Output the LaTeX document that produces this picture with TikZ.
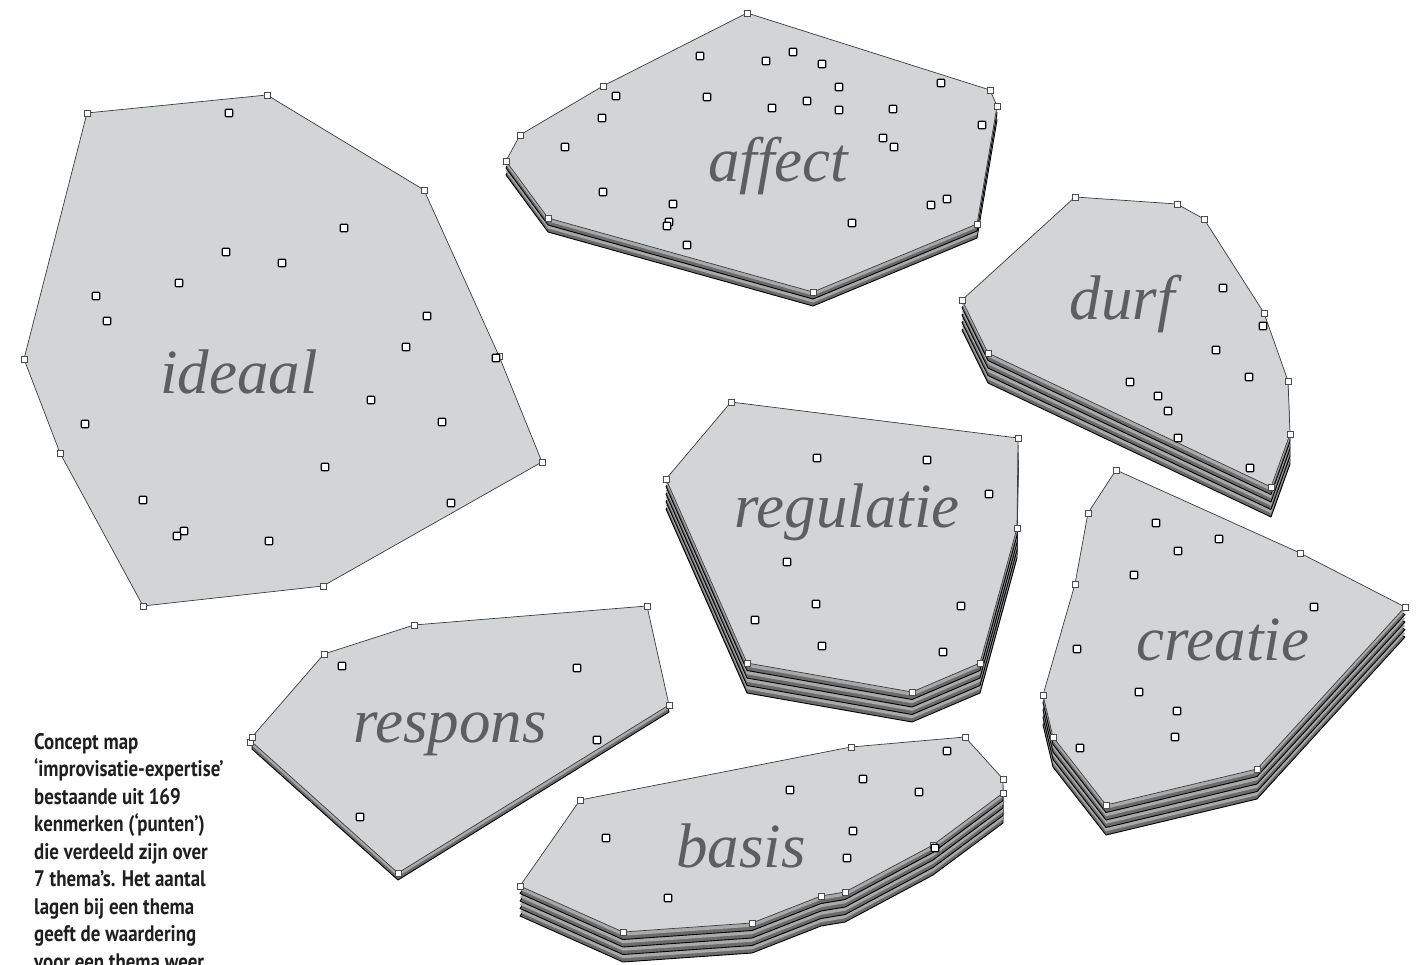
\documentclass[tikz,border=0pt]{standalone}
\usepackage{fontspec}
\newfontfamily\themafont{Liberation Serif}
\newfontfamily\bijschrift[FakeStretch=0.84]{PT Sans}

\definecolor{vlak}{HTML}{D3D4D6}
\definecolor{rand}{HTML}{3C3C3C}
\definecolor{donker}{HTML}{6B6B6B}
\definecolor{licht}{HTML}{A9A9A9}
\definecolor{woord}{HTML}{5E5E60}

% omtrek van de thema's (in pixels van de tekening)
\newcommand{\ideaalvorm}{(87,113) -- (267,95) -- (424,190) -- (499,356) -- (542,462) -- (323,586) -- (143,606) -- (60,453) -- (24,359) -- cycle}
\newcommand{\affectvorm}{(747,13) -- (990,90) -- (997,106) -- (977,224) -- (813,292) -- (548,218) -- (506,161) -- (520,135) -- (603,86) -- cycle}
\newcommand{\durfvorm}{(1075,197) -- (1177,204) -- (1204,219) -- (1264,313) -- (1288,381) -- (1290,434) -- (1271,487) -- (988,353) -- (962,300) -- cycle}
\newcommand{\regulatievorm}{(731,402) -- (1018,438) -- (1017,528) -- (980,663) -- (912,692) -- (747,663) -- (666,479) -- cycle}
\newcommand{\creatievorm}{(1116,470) -- (1300,553) -- (1405,607) -- (1257,769) -- (1106,805) -- (1053,737) -- (1043,695) -- (1075,584) -- (1088,513) -- cycle}
\newcommand{\responsvorm}{(647,606) -- (669,705) -- (398,873) -- (252,742) -- (252,737) -- (324,654) -- (414,625) -- cycle}
\newcommand{\basisvorm}{(580,800) -- (851,747) -- (965,737) -- (1003,779) -- (1003,793) -- (933,845) -- (845,892) -- (821,896) -- (752,923) -- (623,932) -- (520,886) -- cycle}

% #1 vorm, #2 aantal lagen onder het thema, #3 dikte van een laag
\newcommand{\lagen}[3]{%
  \foreach \k in {#2,...,1}{%
    \filldraw[onder, yshift=-\k*#3pt] #1;
    \fill[band, yshift=-\k*#3pt+0.5*#3pt] #1;
  }
  \filldraw[thema] #1;
}

\begin{document}
\begin{tikzpicture}[x=1pt, y=-1pt,
    thema/.style={fill=vlak, draw=rand, line width=0.7pt, line join=round},
    onder/.style={fill=donker, draw=black, line width=0.9pt, line join=round},
    band/.style={fill=licht},
    hoek/.style={draw=black!70, fill=white, line width=0.6pt, inner sep=0pt, minimum size=6pt},
    punt/.style={draw=black, fill=white, line width=1.3pt, inner sep=0pt, minimum size=7.5pt, rounded corners=1pt},
    label/.style={anchor=base, text=woord, font=\themafont\itshape\fontsize{63}{63}\selectfont},
    uitleg/.style={anchor=base west, align=left, inner sep=0pt, text=black!88,
      font=\bijschrift\bfseries\fontsize{22.5}{27.5}\selectfont}]

    \useasboundingbox (0,0) rectangle (1427,965);
    \clip (0,0) rectangle (1427,965);

    % ideaal
    \filldraw[thema] \ideaalvorm;
    \node[label] (ideaal) at (239,394) {ideaal};
    \foreach \x/\y [count=\i] in {87/113, 267/95, 424/190, 499/356, 542/462, 323/586, 143/606, 60/453, 24/359}
        \node[hoek] (ideaal-h\i) at (\x,\y) {};
    \foreach \x/\y [count=\i] in {229/113, 344/228, 226/252, 282/263, 179/283, 96/296, 107/321, 427/316, 406/347,
        496/358, 371/400, 442/422, 85/424, 325/467, 143/500, 451/503, 184/531, 177/536, 269/541}
        \node[punt] (ideaal-p\i) at (\x,\y) {};

    % affect
    \lagen{\affectvorm}{2}{7}
    \node[label] (affect) at (778,182) {affect};
    \foreach \x/\y [count=\i] in {747/13, 990/90, 997/106, 977/224, 813/292, 548/218, 506/161, 520/135, 603/86}
        \node[hoek] (affect-h\i) at (\x,\y) {};
    \foreach \x/\y [count=\i] in {700/56, 766/61, 793/52, 822/64, 839/87, 941/83, 616/96, 707/97, 772/108,
        807/101, 839/110, 893/109, 602/118, 982/125, 883/138, 894/147, 565/147, 603/192, 673/204,
        947/199, 931/205, 669/222, 667/226, 852/223, 687/245}
        \node[punt] (affect-p\i) at (\x,\y) {};

    % durf
    \lagen{\durfvorm}{4}{7.5}
    \node[label] (durf) at (1122,320) {durf};
    \foreach \x/\y [count=\i] in {1075/197, 1177/204, 1204/219, 1264/313, 1288/381, 1290/434, 1271/487, 988/353, 962/300}
        \node[hoek] (durf-h\i) at (\x,\y) {};
    \foreach \x/\y [count=\i] in {1223/288, 1263/326, 1216/350, 1249/377, 1130/382, 1158/396, 1168/411, 1178/438, 1250/468}
        \node[punt] (durf-p\i) at (\x,\y) {};

    % regulatie
    \lagen{\regulatievorm}{4}{7.5}
    \node[label] (regulatie) at (847,527) {regulatie};
    \foreach \x/\y [count=\i] in {731/402, 1018/438, 1017/528, 980/663, 912/692, 747/663, 666/479}
        \node[hoek] (regulatie-h\i) at (\x,\y) {};
    \foreach \x/\y [count=\i] in {817/458, 927/460, 989/494, 787/562, 816/604, 961/606, 755/620, 822/646, 943/652}
        \node[punt] (regulatie-p\i) at (\x,\y) {};

    % creatie
    \lagen{\creatievorm}{4}{7.5}
    \node[label] (creatie) at (1223,660) {creatie};
    \foreach \x/\y [count=\i] in {1116/470, 1300/553, 1405/607, 1257/769, 1106/805, 1053/737, 1043/695, 1075/584, 1088/513}
        \node[hoek] (creatie-h\i) at (\x,\y) {};
    \foreach \x/\y [count=\i] in {1156/523, 1219/539, 1178/551, 1134/575, 1314/607, 1077/649, 1139/692, 1177/711, 1175/737, 1080/748}
        \node[punt] (creatie-p\i) at (\x,\y) {};

    % respons
    \lagen{\responsvorm}{1}{7}
    \node[label] (respons) at (450,742) {respons};
    \foreach \x/\y [count=\i] in {647/606, 669/705, 398/873, 250/742, 252/737, 324/654, 414/625}
        \node[hoek] (respons-h\i) at (\x,\y) {};
    \foreach \x/\y [count=\i] in {342/666, 577/668, 597/740, 360/817}
        \node[punt] (respons-p\i) at (\x,\y) {};

    % basis
    \lagen{\basisvorm}{4}{7.5}
    \node[label] (basis) at (741,867) {basis};
    \foreach \x/\y [count=\i] in {580/800, 851/747, 965/737, 1003/779, 1003/793, 933/845, 845/892, 821/896, 752/923, 623/932, 520/886}
        \node[hoek] (basis-h\i) at (\x,\y) {};
    \foreach \x/\y [count=\i] in {790/790, 863/779, 919/792, 947/751, 853/831, 847/858, 606/838, 668/898, 935/848}
        \node[punt] (basis-p\i) at (\x,\y) {};

    \node[uitleg] (uitleg) at (34,969) {Concept map\\‘improvisatie-expertise’\\bestaande uit 169\\kenmerken (‘punten’)\\die verdeeld zijn over\\7 thema’s. Het aantal\\lagen bij een thema\\geeft de waardering\\voor een thema weer.};
\end{tikzpicture}
\end{document}
